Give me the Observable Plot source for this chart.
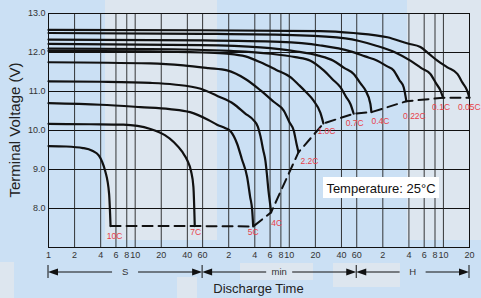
<!DOCTYPE html>
<html><head><meta charset="utf-8">
<script src="https://cdn.jsdelivr.net/npm/d3@7"></script>
<script src="https://cdn.jsdelivr.net/npm/@observablehq/plot@0.6"></script>
<style>html,body{margin:0;padding:0;background:#cbe0f4;} svg{display:block}</style>
</head><body><div id="chart"></div>
<script>
// ---- data (time in seconds, voltage in V) ----
const rates = ["10C","7C","5C","4C","2.2C","1.0C","0.7C","0.4C","0.22C","0.1C","0.05C"];
const t10C = [1, 1.6, 2.5, 3.2, 3.8, 4.15, 4.5, 5.0, 5.2];
const v10C = [9.6, 9.59, 9.55, 9.48, 9.36, 9.2, 8.97, 8.38, 7.55];
const t7C = [1, 3, 7.3, 15, 22, 28, 35, 40, 44, 47, 48.7];
const v7C = [10.17, 10.16, 10.15, 10.04, 9.88, 9.70, 9.45, 9.23, 8.97, 8.55, 7.55];
const t5C = [1, 4, 11.5, 25, 43, 70, 88, 110, 126, 150, 170, 196, 212, 224, 230];
const v5C = [10.7, 10.66, 10.6, 10.55, 10.47, 10.27, 10.15, 10.06, 9.98, 9.66, 9.27, 8.8, 8.3, 7.95, 7.54];
const t4C = [1, 4, 15, 28, 57, 90, 137, 185, 233, 260, 279, 300, 318, 332, 345, 360, 370];
const v4C = [11.26, 11.25, 11.22, 11.18, 11.07, 10.88, 10.68, 10.44, 10.26, 10.1, 9.85, 9.5, 9.23, 8.85, 8.46, 8.13, 7.9];
const t2_2C = [1, 15, 36, 70, 115, 187, 279, 400, 518, 600, 675, 730, 765];
const v2_2C = [11.75, 11.72, 11.67, 11.6, 11.54, 11.32, 11.03, 10.73, 10.51, 10.22, 10.0, 9.64, 9.44];
const t1_0C = [1, 15, 60, 115, 187, 279, 420, 618, 780, 921, 1139, 1372, 1486];
const v1_0C = [12.04, 12.03, 12.0, 11.97, 11.9, 11.75, 11.56, 11.37, 11.16, 11.0, 10.77, 10.45, 10.18];
const t0_7C = [1, 15, 126, 364, 706, 1052, 1497, 1900, 2333, 2700, 3043, 3321];
const v0_7C = [12.1, 12.09, 12.04, 11.97, 11.88, 11.79, 11.54, 11.31, 11.11, 10.87, 10.68, 10.43];
const t0_4C = [1, 57, 279, 706, 1301, 1938, 2600, 3321, 4000, 4532, 5176, 5315];
const v0_4C = [12.22, 12.19, 12.13, 12.03, 11.92, 11.79, 11.6, 11.45, 11.2, 11.03, 10.68, 10.47];
const t0_22C = [1, 57, 474, 1372, 3043, 4500, 6232, 8000, 9610, 11200, 12530, 13465];
const v0_22C = [12.33, 12.31, 12.27, 12.18, 12.03, 11.9, 11.79, 11.65, 11.54, 11.29, 11.11, 10.75];
const t0_1C = [1, 57, 806, 2665, 5908, 10050, 14970, 20000, 25470, 30000, 33210, 35690];
const v0_1C = [12.5, 12.48, 12.44, 12.36, 12.18, 12.0, 11.79, 11.6, 11.45, 11.19, 11.03, 10.84];
const t0_05C = [1, 57, 1372, 3296, 8128, 14000, 19530, 25000, 30670, 40000, 52170, 60000, 67480, 71760];
const v0_05C = [12.58, 12.57, 12.55, 12.5, 12.39, 12.23, 12.14, 11.95, 11.79, 11.62, 11.45, 11.22, 11.03, 10.84];

const xTickSeconds = [1,2,4,6,8,10,20,40,60,120,240,360,480,600,1200,2400,3600,7200,14400,21600,28800,36000,72000];
const xTickLabels = ["1","2","4","6","8","10","20","40","60","2","4","6","8","10","20","40","60","2","4","6","8","10","20"];
const yTicks = [8, 9, 10, 11, 12, 13];
const sectionBounds = [1, 60, 3600, 72000];
const sectionLabels = ["S", "min", "H"];
const yTitle = "Terminal Voltage (V)";
const xTitle = "Discharge Time";
const note = "Temperature: 25°C";

// ---- build ----
const times = [t10C, t7C, t5C, t4C, t2_2C, t1_0C, t0_7C, t0_4C, t0_22C, t0_1C, t0_05C];
const volts = [v10C, v7C, v5C, v4C, v2_2C, v1_0C, v0_7C, v0_4C, v0_22C, v0_1C, v0_05C];
const rows = rates.flatMap((r, k) => times[k].map((t, i) => ({rate: r, t, v: volts[k][i]})));
const ends = rates.map((r, k) => ({rate: r, t: times[k][times[k].length - 1], v: volts[k][volts[k].length - 1]}));
const dashed = ends.slice().sort((a, b) => a.t - b.t);
const xTickRows = xTickSeconds.map((t, i) => ({t, label: xTickLabels[i]}));

// label offsets (px) relative to each curve's end point
const labelDx = [4, 1, 0, 5.5, 11, 3, 1, 9, 8, -2, 0];
const labelDy = [10, 6.5, 6, 10.5, 9, 8, 10, 9, 15, 10, 10];

const font = "'Liberation Sans', Arial, sans-serif";
const plot = Plot.plot({
  width: 481, height: 298,
  marginLeft: 48, marginRight: 12, marginTop: 13, marginBottom: 51,
  style: {background: "transparent", fontFamily: font, fontSize: "9px", color: "#333", overflow: "visible"},
  x: {type: "log", domain: [1, 72000], axis: null},
  y: {domain: [7, 13], axis: null},
  marks: [
    Plot.gridY(yTicks, {stroke: "#111", strokeOpacity: 1, strokeWidth: 1}),
    Plot.gridX(xTickSeconds, {stroke: "#222", strokeOpacity: 0.9, strokeWidth: 1}),
    Plot.frame({stroke: "#111"}),
    Plot.axisY(yTicks, {tickSize: 0, tickPadding: 3, tickFormat: d => d.toFixed(1), label: null, fontSize: 9}),
    Plot.text(xTickRows, {x: "t", text: "label", frameAnchor: "bottom", lineAnchor: "top", dy: 4, fontSize: 9, fill: "#333"}),
    Plot.line(dashed, {x: "t", y: "v", stroke: "#111", strokeWidth: 2, strokeDasharray: "10,6"}),
    Plot.line(rows, {x: "t", y: "v", z: "rate", stroke: "#111", strokeWidth: 2.2, curve: "monotone-x"}),
    ...ends.map((e, i) => Plot.text([e], {x: "t", y: "v", text: "rate", dx: labelDx[i], dy: labelDy[i], fill: "#e8414a", fontSize: 8.5}))
  ]
});

const svg = d3.select(plot);
const X = plot.scale("x"), Y = plot.scale("y");
const x0 = X.apply(1), x1 = X.apply(72000), yT = Y.apply(13), yB = Y.apply(7);

// background + light watermark blocks
const bg = svg.insert("g", ":first-child");
bg.append("rect").attr("width", 481).attr("height", 298).attr("fill", "#cbe0f4");
const blocks = [[105,0,112,240],[407,0,74,240],[240,263,73,17],[177,277,20,21],[333,263,67,24],[0,262,14,36]];
blocks.forEach(b => bg.append("rect").attr("x", b[0]).attr("y", b[1]).attr("width", b[2]).attr("height", b[3]).attr("fill", "#dde6ef"));

// y title
svg.append("text").attr("transform", `translate(20,${(yT + yB) / 2}) rotate(-90)`)
  .attr("text-anchor", "middle").attr("font-family", font).attr("font-size", 15).attr("fill", "#222").text(yTitle);
// x title
svg.append("text").attr("x", (x0 + x1) / 2).attr("y", 293).attr("text-anchor", "middle")
  .attr("font-family", font).attr("font-size", 13).attr("fill", "#222").text(xTitle);

// time-unit arrows row
const ay = 272;
const g = svg.append("g").attr("fill", "#111").attr("stroke", "#111");
sectionBounds.forEach(b => {
  const px = X.apply(b);
  g.append("line").attr("x1", px).attr("x2", px).attr("y1", ay - 7).attr("y2", ay + 6).attr("stroke-width", 1);
});
sectionLabels.forEach((lab, i) => {
  const a = X.apply(sectionBounds[i]), b = X.apply(sectionBounds[i + 1]), m = (a + b) / 2, gap = 13;
  g.append("line").attr("x1", a + 8).attr("x2", m - gap).attr("y1", ay).attr("y2", ay).attr("stroke-width", 1);
  g.append("line").attr("x1", m + gap).attr("x2", b - 8).attr("y1", ay).attr("y2", ay).attr("stroke-width", 1);
  g.append("polygon").attr("points", `${a},${ay} ${a + 10},${ay - 3.5} ${a + 10},${ay + 3.5}`).attr("stroke", "none");
  g.append("polygon").attr("points", `${b},${ay} ${b - 10},${ay - 3.5} ${b - 10},${ay + 3.5}`).attr("stroke", "none");
  svg.append("text").attr("x", m).attr("y", ay + 3.3).attr("text-anchor", "middle")
    .attr("font-family", font).attr("font-size", 9.5).attr("fill", "#333").text(lab);
});

// temperature note box
const nb = svg.append("g");
nb.append("rect").attr("x", x1 - 146).attr("y", yB - 70).attr("width", 116).attr("height", 21).attr("fill", "#fff");
nb.append("text").attr("x", x1 - 88).attr("y", yB - 54).attr("text-anchor", "middle")
  .attr("font-family", font).attr("font-size", 13).attr("fill", "#111").text(note);

document.getElementById("chart").appendChild(plot);
</script>
</body></html>
